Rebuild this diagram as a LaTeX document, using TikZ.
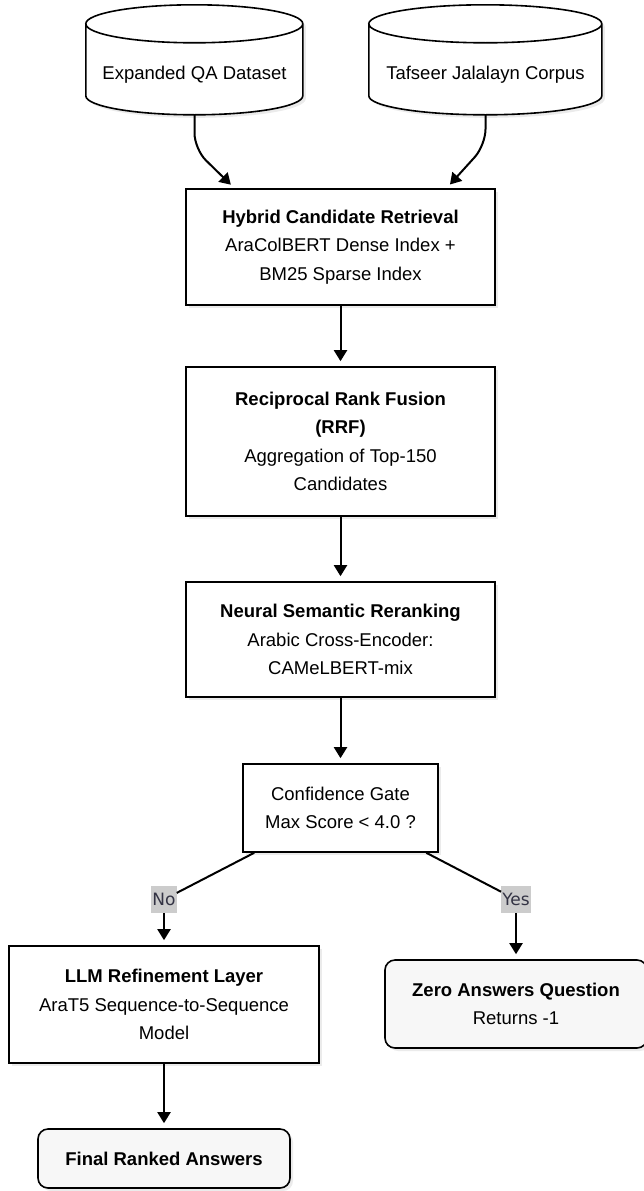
\documentclass[tikz,border=0pt]{standalone}
\usepackage{fontspec}
\setmainfont{Liberation Sans}
\newfontfamily\lblfont{DejaVu Sans}
\usetikzlibrary{arrows.meta,shadows}
\definecolor{lblgray}{RGB}{204,204,204}
\definecolor{lbltext}{RGB}{51,51,68}
\definecolor{termfill}{RGB}{247,247,247}

\begin{document}
\begin{tikzpicture}[x=1pt,y=-1pt,
	font=\fontsize{18.5}{28.5}\selectfont,
	shade/.style={drop shadow={shadow xshift=3pt,shadow yshift=-3pt,fill=black,opacity=.08}},
	box/.style={draw,line width=1.6pt,fill=white,align=center,inner sep=0pt,shade},
	term/.style={box,rounded corners=10pt,fill=termfill},
	dbtext/.style={align=center,inner sep=0pt},
	dbline/.style={draw,line width=1.6pt,fill=white,shade},
	lbl/.style={fill=lblgray,text=lbltext,font=\lblfont\fontsize{17}{19}\selectfont,inner xsep=1pt,minimum height=27pt},
	flow/.style={->,>={Triangle[length=11pt,width=13pt]},line width=2pt,shorten >=5pt}]
	\useasboundingbox (0,0) rectangle (643,1191);

	% sources (cylinders drawn round the text nodes)
	\node(qa) at (194.5,75)[dbtext,minimum width=217pt,minimum height=80pt]{};
	\node(taf) at (485.5,75)[dbtext,minimum width=233pt,minimum height=80pt]{};
	\path[dbline](qa.north west) ++(0,-11) -- ++(0,72) arc[start angle=180,end angle=360,x radius=108.5pt,y radius=19pt] -- ++(0,-72) arc[start angle=0,end angle=180,x radius=108.5pt,y radius=19pt] arc[start angle=180,end angle=360,x radius=108.5pt,y radius=19pt];
	\path[dbline](taf.north west) ++(0,-11) -- ++(0,72) arc[start angle=180,end angle=360,x radius=116.5pt,y radius=19pt] -- ++(0,-72) arc[start angle=0,end angle=180,x radius=116.5pt,y radius=19pt] arc[start angle=180,end angle=360,x radius=116.5pt,y radius=19pt];
	\node(qatxt) at (qa){Expanded QA Dataset};
	\node(taftxt) at (taf){Tafseer Jalalayn Corpus};

	% pipeline
	\node(hyb) at (340.5,247)[box,minimum width=309pt,minimum height=116pt]{\textbf{Hybrid Candidate Retrieval}\\AraColBERT Dense Index +\\BM25 Sparse Index};
	\node(rrf) at (340.5,441.5)[box,minimum width=309pt,minimum height=149pt]{\textbf{Reciprocal Rank Fusion}\\\textbf{(RRF)}\\Aggregation of Top-150\\Candidates};
	\node(rer) at (340.5,639.5)[box,minimum width=309pt,minimum height=115pt]{\textbf{Neural Semantic Reranking}\\Arabic Cross-Encoder:\\CAMeLBERT-mix};
	\node(gate) at (340.5,808)[box,minimum width=195pt,minimum height=88pt]{Confidence Gate\\Max Score < 4.0 ?};

	\node(no) at (164,899.5)[lbl]{No};
	\node(yes) at (516,899.5)[lbl]{Yes};

	\node(llm) at (164,1004.5)[box,minimum width=310pt,minimum height=117pt]{\textbf{LLM Refinement Layer}\\AraT5 Sequence-to-Sequence\\Model};
	\node(zero) at (516,1004)[term,minimum width=262pt,minimum height=88pt]{\textbf{Zero Answers Question}\\Returns -1};
	\node(fin) at (164,1158.5)[term,minimum width=252pt,minimum height=59pt]{\textbf{Final Ranked Answers}};

	\draw[flow,rounded corners=16pt](qa.south) -- ++(0,34) -- (hyb.151);
	\draw[flow,rounded corners=16pt](taf.south) -- ++(0,30) -- (hyb.29);
	\draw[flow](hyb) -- (rrf);
	\draw[flow](rrf) -- (rer);
	\draw[flow](rer) -- (gate);
	\draw[line width=2pt](gate) -- (no);
	\draw[line width=2pt](gate) -- (yes);
	\draw[flow](no) -- (llm);
	\draw[flow](yes) -- (zero);
	\draw[flow](llm) -- (fin);
\end{tikzpicture}
\end{document}
